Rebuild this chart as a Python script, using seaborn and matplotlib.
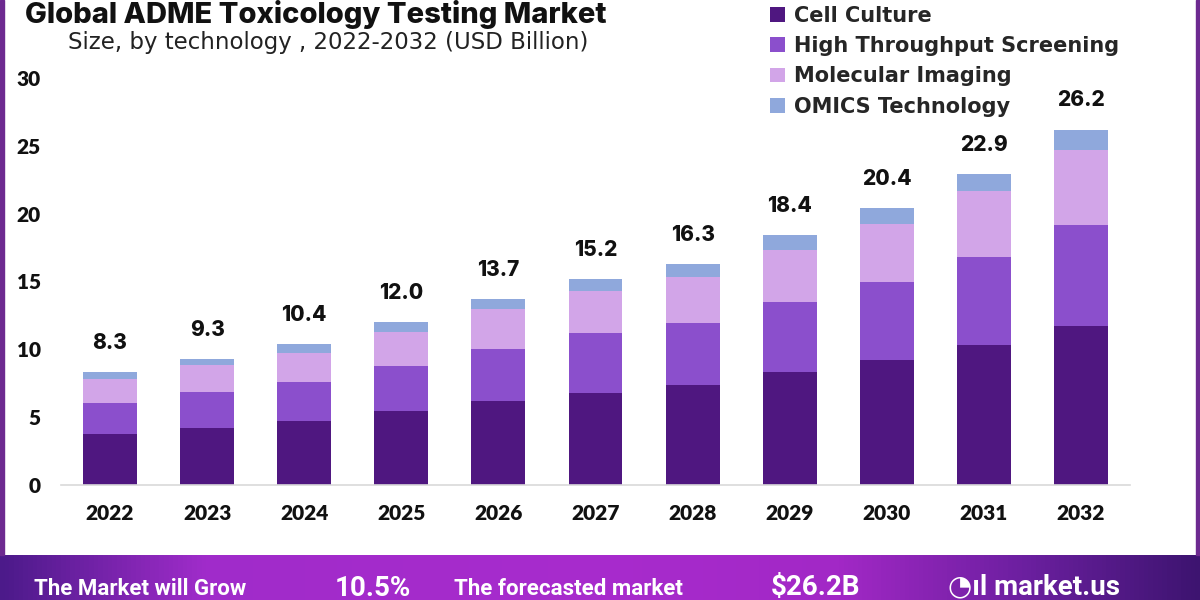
import numpy as np
import pandas as pd
import seaborn as sns
import matplotlib.pyplot as plt
from matplotlib.patches import Patch, Rectangle
from matplotlib.colors import LinearSegmentedColormap

# data (USD Billion)
years = ["2022", "2023", "2024", "2025", "2026", "2027", "2028", "2029", "2030", "2031", "2032"]
cell_culture = [3.75, 4.2, 4.7, 5.45, 6.17, 6.8, 7.4, 8.3, 9.2, 10.3, 11.7]
high_throughput = [2.3, 2.65, 2.9, 3.3, 3.83, 4.4, 4.55, 5.2, 5.75, 6.5, 7.5]
molecular_imaging = [1.75, 2.0, 2.15, 2.55, 2.95, 3.1, 3.4, 3.8, 4.3, 4.9, 5.5]
omics = [0.5, 0.45, 0.65, 0.7, 0.75, 0.9, 0.95, 1.1, 1.15, 1.2, 1.5]
totals = [8.3, 9.3, 10.4, 12.0, 13.7, 15.2, 16.3, 18.4, 20.4, 22.9, 26.2]

segments = ["Cell Culture", "High Throughput Screening", "Molecular Imaging", "OMICS Technology"]
colors = ["#4f1780", "#8b4fcc", "#d2a5e8", "#8fa8dc"]

df = pd.DataFrame({
    "Year": years,
    "Cell Culture": cell_culture,
    "High Throughput Screening": high_throughput,
    "Molecular Imaging": molecular_imaging,
    "OMICS Technology": omics,
})
# cumulative heights for the overdraw stacking trick
cum = df[segments].cumsum(axis=1)

sns.set_style("white")
fig = plt.figure(figsize=(12, 6), dpi=100)
fig.patch.set_facecolor("white")
ax = fig.add_axes([0.05125, 0.1917, 0.89, 0.6783])

# draw the tallest stack first, then the lower ones on top
for seg, col in reversed(list(zip(segments, colors))):
    sns.barplot(x=df["Year"], y=cum[seg], color=col, width=0.556, ax=ax,
                saturation=1, edgecolor="none")

ax.set_ylim(0, 30)
ax.set_xlim(-0.5, len(years) - 0.5)
ax.set_yticks([0, 5, 10, 15, 20, 25, 30])
ax.set_xlabel("")
ax.set_ylabel("")
sns.despine(ax=ax, left=True, top=True, right=True)
ax.spines["bottom"].set_color("#d9d9d9")
ax.spines["bottom"].set_linewidth(1.2)
ax.tick_params(axis="y", length=0, pad=15, labelsize=15)
ax.tick_params(axis="x", length=0, pad=14, labelsize=15)
for lab in ax.get_xticklabels() + ax.get_yticklabels():
    lab.set_fontfamily("Lato")
    lab.set_fontweight("heavy")
    lab.set_color("#111111")

for i, t in enumerate(totals):
    ax.annotate(f"{t:.1f}", (i, t), xytext=(0, 21), textcoords="offset points",
                ha="center", va="center", fontsize=15, fontweight="heavy",
                fontfamily="Inter", color="#111111", annotation_clip=False)

# title and subtitle
fig.text(0.021, 0.962, "Global ADME Toxicology Testing Market", fontsize=21,
         fontweight="heavy", fontfamily="Inter", color="#111111", va="baseline")
fig.text(0.057, 0.929, "Size, by technology , 2022-2032 (USD Billion)", fontsize=16.5,
         fontfamily="DejaVu Sans", color="#222222", va="center")

handles = [Patch(facecolor=c, edgecolor="none") for c in colors]
fig.legend(handles, segments, loc="upper left", bbox_to_anchor=(0.626, 1.022),
           frameon=False, handlelength=0.7, handleheight=0.7, handletextpad=0.45,
           labelspacing=0.5, prop={"family": "DejaVu Sans", "weight": "bold", "size": 15})

# purple frame lines
fig.patches.append(Rectangle((0, 0.075), 0.003, 0.925, transform=fig.transFigure,
                             color="#6d2a90", zorder=5))
fig.patches.append(Rectangle((0.9967, 0.075), 0.003, 0.925, transform=fig.transFigure,
                             color="#6d2a90", zorder=5))

# bottom banner with purple gradient
bax = fig.add_axes([0, 0, 1, 0.075])
cmap = LinearSegmentedColormap.from_list("banner", [
    (0.0, "#4c1a8a"), (0.17, "#a02cca"), (0.5, "#a82bcd"),
    (0.7, "#a228c6"), (0.86, "#6a1f9e"), (1.0, "#3d1470")])
bax.imshow(np.linspace(0, 1, 256).reshape(1, -1), cmap=cmap, aspect="auto",
           extent=[0, 1, 0, 1])
bax.set_xlim(0, 1)
bax.set_ylim(0, 1)
bax.axis("off")
bkw = dict(color="white", fontweight="bold", va="baseline")
bax.text(0.028, 0.12, "The Market will Grow", fontsize=16, family="Roboto", **bkw)
bax.text(0.279, 0.1, "10.5%", fontsize=20, family="Roboto", **bkw)
bax.text(0.378, 0.12, "The forecasted market", fontsize=16, family="Roboto", **bkw)
bax.text(0.642, 0.1, "$26.2B", fontsize=20, family="Roboto", **bkw)
bax.text(0.79, 0.12, "◔ıl market.us", fontsize=20, family=["Roboto", "DejaVu Sans"], **bkw)

fig.savefig("out.png", dpi=100)
